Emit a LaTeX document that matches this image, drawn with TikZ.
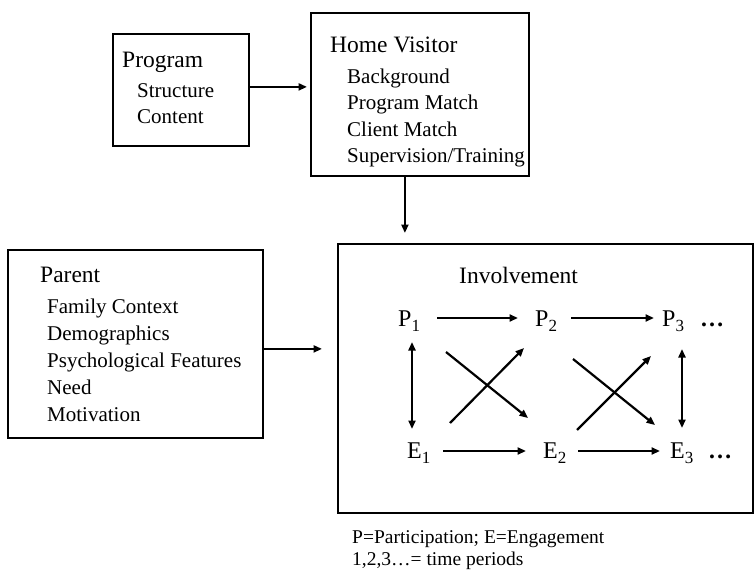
\documentclass[tikz,border=0pt]{standalone}
\usepackage{fontspec}
\setmainfont{Liberation Serif}
\usetikzlibrary{arrows.meta}
\newcommand{\mysub}[1]{\raisebox{-5pt}{\fontsize{17}{17}\selectfont #1}}
\tikzset{
  box/.style={draw, line width=1.8pt, inner sep=0pt, anchor=north west},
  hdr/.style={inner sep=0pt, anchor=base west, font=\fontsize{23.5}{28}\selectfont},
  itm/.style={inner sep=0pt, anchor=base west, font=\fontsize{21}{25}\selectfont},
  var/.style={inner sep=0pt, anchor=base west, font=\fontsize{24}{28}\selectfont},
  note/.style={inner sep=0pt, anchor=base west, font=\fontsize{19.5}{23}\selectfont},
  arr/.style={line width=2.2pt, -{Triangle[length=8.5pt,width=7pt]}},
  darr/.style={line width=2.2pt, {Triangle[length=8.5pt,width=7pt]}-{Triangle[length=8.5pt,width=7pt]}}
}
\begin{document}
\begin{tikzpicture}[x=1pt,y=-1pt]
\useasboundingbox (0,0) rectangle (755,570);
% boxes
\node[box, minimum width=136pt, minimum height=112pt] (prog) at (112,33) {};
\node[box, minimum width=218pt, minimum height=163pt] (hv) at (310,12) {};
\node[box, minimum width=255pt, minimum height=188pt] (par) at (7,249) {};
\node[box, minimum width=415pt, minimum height=269pt] (inv) at (337,243) {};
% program text
\node[hdr] (progT) at (122,67) {Program};
\node[itm] (prog1) at (137,97) {Structure};
\node[itm] (prog2) at (137,123) {Content};
% home visitor text
\node[hdr] (hvT) at (330,52) {Home Visitor};
\node[itm] (hv1) at (347,83) {Background};
\node[itm] (hv2) at (347,109) {Program Match};
\node[itm] (hv3) at (347,136) {Client Match};
\node[itm] (hv4) at (347,162) {Supervision/Training};
% parent text
\node[hdr] (parT) at (40,282) {Parent};
\node[itm] (par1) at (47,313) {Family Context};
\node[itm] (par2) at (47,340) {Demographics};
\node[itm] (par3) at (47,367) {Psychological Features};
\node[itm] (par4) at (47,394) {Need};
\node[itm] (par5) at (47,421) {Motivation};
% involvement
\node[hdr] (invT) at (459,283) {Involvement};
\node[var] (P1) at (398,326) {P\mysub{1}};
\node[var] (P2) at (535,326) {P\mysub{2}};
\node[var] (P3) at (662,326) {P\mysub{3}};
\node[var] (Pd) at (700,326) {\textbf{…}};
\node[var] (E1) at (407,458) {E\mysub{1}};
\node[var] (E2) at (543,458) {E\mysub{2}};
\node[var] (E3) at (670,458) {E\mysub{3}};
\node[var] (Ed) at (708,458) {\textbf{…}};
% footnote
\node[note] (n1) at (352,543) {P=Participation; E=Engagement};
\node[note] (n2) at (352,565) {1,2,3…= time periods};
% outer connectors
\draw[arr, shorten >=3pt] ([yshift=3pt]prog.east) -- ([yshift=3pt]prog.east -| hv.west);
\draw[arr, shorten >=10pt] ([xshift=-15pt]hv.south) -- ([xshift=-15pt]hv.south |- inv.north);
\draw[arr, shorten >=15pt] ([yshift=-5pt]par.east) -- ([yshift=-5pt]par.east -| inv.west);
% inner connectors
\draw[arr] ([shift={(39pt,8pt)}]P1.base west) -- ([shift={(-17pt,8pt)}]P2.base west);
\draw[arr] ([shift={(36pt,8pt)}]P2.base west) -- ([shift={(-8pt,8pt)}]P3.base west);
\draw[arr] ([shift={(36pt,7pt)}]E1.base west) -- ([shift={(-17pt,7pt)}]E2.base west);
\draw[arr] ([shift={(35pt,7pt)}]E2.base west) -- ([shift={(-10pt,7pt)}]E3.base west);
\draw[darr] ([shift={(14pt,-16pt)}]P1.base west) -- ([shift={(5pt,29pt)}]E1.base west);
\draw[darr] ([shift={(20pt,-23pt)}]P3.base west) -- ([shift={(12pt,30pt)}]E3.base west);
\draw[arr] ([shift={(48pt,-26pt)}]P1.base west) -- ([shift={(-15pt,40pt)}]E2.base west);
\draw[arr] ([shift={(43pt,35pt)}]E1.base west) -- ([shift={(-11pt,-22pt)}]P2.base west);
\draw[arr] ([shift={(38pt,-33pt)}]P2.base west) -- ([shift={(-15pt,33pt)}]E3.base west);
\draw[arr] ([shift={(34pt,28pt)}]E2.base west) -- ([shift={(-11pt,-30pt)}]P3.base west);
\end{tikzpicture}
\end{document}
